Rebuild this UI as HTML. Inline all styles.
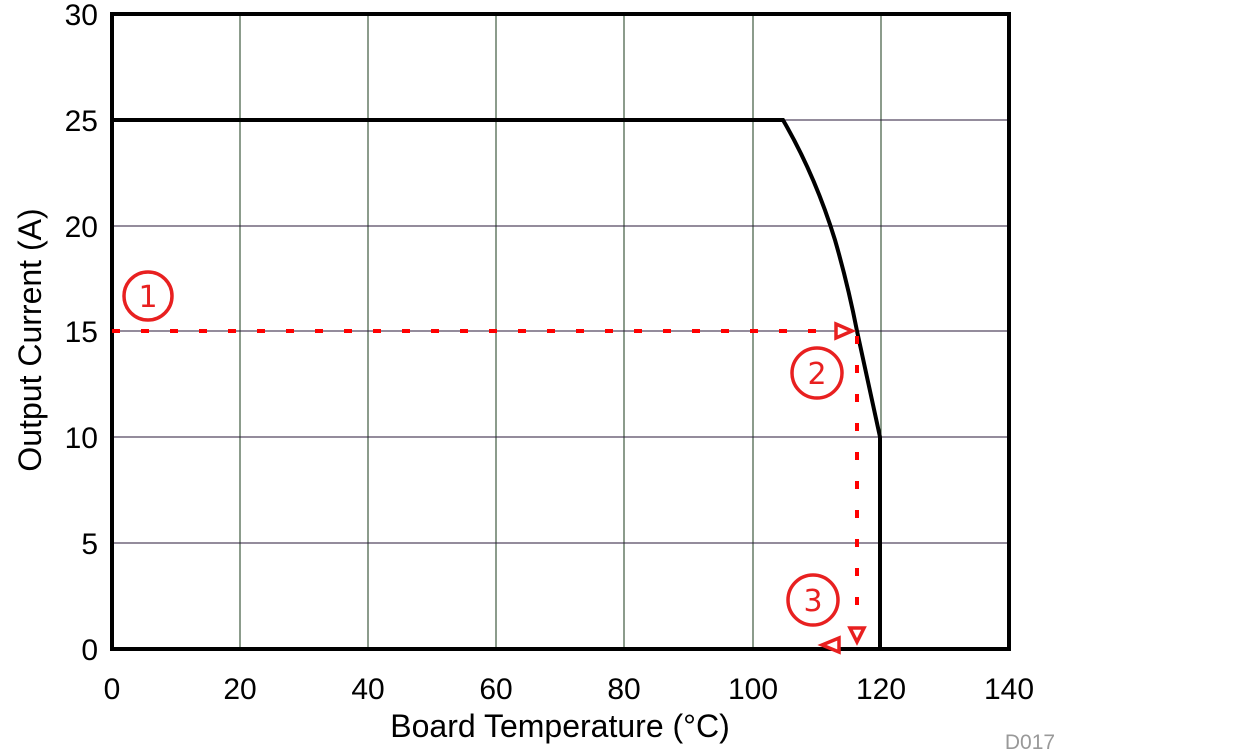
<!DOCTYPE html>
<html><head><style>body{margin:0;background:#fff}svg{display:block}</style></head><body>
<svg width="1259" height="754" xmlns="http://www.w3.org/2000/svg" font-family="Liberation Sans, sans-serif">
<rect width="1259" height="754" fill="#fff"/>
<g stroke="#1a3a1a" stroke-width="1">
<line x1="240" y1="14" x2="240" y2="649"/><line x1="368" y1="14" x2="368" y2="649"/><line x1="496" y1="14" x2="496" y2="649"/><line x1="624" y1="14" x2="624" y2="649"/><line x1="753" y1="14" x2="753" y2="649"/><line x1="881" y1="14" x2="881" y2="649"/>
</g>
<g stroke="#2a1a3a" stroke-width="1">
<line x1="112" y1="120" x2="1009" y2="120"/><line x1="112" y1="226" x2="1009" y2="226"/><line x1="112" y1="331" x2="1009" y2="331"/><line x1="112" y1="437" x2="1009" y2="437"/><line x1="112" y1="543" x2="1009" y2="543"/>
</g>
<path d="M112,120 L783,120 Q815,175 835,240 Q848,285 857,331 L880,437 L880,649" fill="none" stroke="#000" stroke-width="4"/>
<rect x="112" y="14" width="897" height="635" fill="none" stroke="#000" stroke-width="4"/>
<g stroke="#f00" stroke-width="4" fill="none">
<line x1="112" y1="331" x2="838" y2="331" stroke-dasharray="8,21"/>
<line x1="857" y1="336" x2="857" y2="625" stroke-dasharray="8,21"/>
</g>
<g stroke="#e82020" stroke-width="3.5" fill="#fff">
<polygon points="836,324 852,331 836,338"/>
<polygon points="850,628 864,628 857,642"/>
<polygon points="839,638 839,652 822,645"/>
<circle cx="148" cy="296" r="24"/><circle cx="817" cy="373" r="25"/><circle cx="813" cy="600" r="25"/>
</g>
<g fill="#e82020" font-size="30" text-anchor="middle" font-family="DejaVu Sans, sans-serif">
<text x="148" y="307">1</text><text x="817" y="384">2</text><text x="813" y="611">3</text>
</g>
<g font-size="30" fill="#000" text-anchor="end">
<text x="98" y="25">30</text><text x="98" y="131">25</text><text x="98" y="237">20</text><text x="98" y="342">15</text><text x="98" y="448">10</text><text x="98" y="554">5</text><text x="98" y="660">0</text>
</g>
<g font-size="30" fill="#000" text-anchor="middle">
<text x="112" y="699">0</text><text x="240" y="699">20</text><text x="368" y="699">40</text><text x="496" y="699">60</text><text x="624" y="699">80</text><text x="753" y="699">100</text><text x="881" y="699">120</text><text x="1009" y="699">140</text>
<text x="560" y="737" font-size="32">Board Temperature (°C)</text>
<text transform="translate(30,340) rotate(-90)" y="11" font-size="32">Output Current (A)</text>
</g>
<text x="1030" y="749" font-size="21" fill="#999" text-anchor="middle">D017</text>
</svg>
</body></html>
